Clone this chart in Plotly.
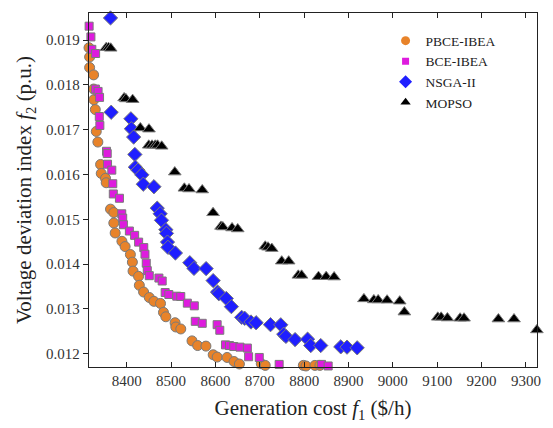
import plotly.graph_objects as go

# ---- data ----
pbce_x = [8314.9, 8315.0, 8316.4, 8316.4, 8325.4, 8325.4, 8326.0, 8329.2, 8331.4, 8335.0,
          8341.1, 8342.6, 8352.3, 8353.8, 8363.5, 8370.9, 8370.9, 8374.0, 8389.2, 8396.4,
          8408.3, 8412.8, 8414.3, 8426.7, 8428.5, 8438.1, 8450.9, 8461.4, 8476.2, 8482.9,
          8488.3, 8509.1, 8510.7, 8521.9, 8547.2, 8560.0, 8578.6, 8595.0, 8603.9, 8626.3,
          8642.0, 8654.1, 8703.4, 8712.3, 8798.2, 8804.2, 8824.4, 8835.6]
pbce_y = [0.019127, 0.018830, 0.018624, 0.018387, 0.018224, 0.017908, 0.017671, 0.017450, 0.016962, 0.016725,
          0.016225, 0.016025, 0.015915, 0.015817, 0.015228, 0.015152, 0.014918, 0.014696, 0.014510, 0.014393,
          0.014215, 0.014045, 0.013845, 0.013728, 0.013529, 0.013378, 0.013256, 0.013170, 0.013123, 0.012924,
          0.012826, 0.012693, 0.012598, 0.012554, 0.012288, 0.012184, 0.012171, 0.011978, 0.011927, 0.011918,
          0.011827, 0.011772, 0.011778, 0.011741, 0.011741, 0.011728, 0.011741, 0.011741]

bce_x = [8315.3, 8319.3, 8321.4, 8329.9, 8329.4, 8335.5, 8338.8, 8338.2, 8339.5, 8354.5,
         8356.1, 8356.8, 8366.4, 8368.6, 8369.8, 8383.6, 8388.8, 8391.0, 8392.6, 8406.0,
         8417.9, 8426.9, 8438.5, 8441.2, 8444.1, 8446.4, 8450.9, 8472.6, 8480.0, 8486.7,
         8495.0, 8512.9, 8521.9, 8536.7, 8552.4, 8554.6, 8570.3, 8603.9, 8609.9, 8622.7,
         8631.7, 8641.3, 8655.4, 8672.0, 8674.9, 8698.9, 8743.7, 8839.2, 8854.2]
bce_y = [0.019311, 0.019071, 0.018794, 0.018701, 0.017908, 0.017855, 0.017722, 0.017295, 0.017095, 0.016519,
         0.016468, 0.016231, 0.016098, 0.015795, 0.015567, 0.015471, 0.015124, 0.015028, 0.014880, 0.014740,
         0.014643, 0.014492, 0.014370, 0.014222, 0.014023, 0.013856, 0.013743, 0.013690, 0.013624, 0.013367,
         0.013323, 0.013285, 0.013278, 0.013130, 0.013070, 0.012724, 0.012680, 0.012649, 0.012525, 0.012199,
         0.012184, 0.012162, 0.012148, 0.012128, 0.011934, 0.011918, 0.011763, 0.011763, 0.011728]

nsga_x = [8356.8, 8363.5, 8365.0, 8409.4, 8410.5, 8415.7, 8418.4, 8419.5, 8425.5, 8434.1,
          8437.4, 8461.4, 8468.8, 8475.5, 8478.4, 8488.3, 8489.6, 8491.9, 8493.0, 8509.8,
          8542.3, 8551.7, 8579.0, 8594.9, 8604.8, 8607.7, 8624.5, 8636.0, 8659.2, 8665.9,
          8680.1, 8691.7, 8724.2, 8747.3, 8754.0, 8759.0, 8779.6, 8807.8, 8815.0, 8837.4,
          8882.6, 8896.7, 8919.6]
nsga_y = [0.019632, 0.019494, 0.017390, 0.017244, 0.017022, 0.016836, 0.016448, 0.016165, 0.016098, 0.015994,
          0.015784, 0.015728, 0.015250, 0.015124, 0.014980, 0.014769, 0.014687, 0.014492, 0.014375, 0.014249,
          0.014031, 0.013905, 0.013901, 0.013633, 0.013378, 0.013340, 0.013234, 0.013052, 0.012813, 0.012793,
          0.012709, 0.012693, 0.012649, 0.012647, 0.012436, 0.012388, 0.012317, 0.012326, 0.012184, 0.012184,
          0.012155, 0.012148, 0.012133]

mopso_x = [8353.8, 8359.0, 8363.9, 8394.2, 8398.2, 8413.4, 8430.7, 8450.2, 8449.7, 8457.1,
           8464.3, 8469.5, 8478.9, 8508.4, 8530.0, 8540.5, 8570.3, 8594.7, 8612.6, 8616.7,
           8637.5, 8650.3, 8712.3, 8718.6, 8727.1, 8749.5, 8765.2, 8786.9, 8794.3, 8832.4,
           8849.7, 8867.6, 8934.8, 8957.2, 8966.9, 8987.0, 9015.5, 9026.0, 9101.3, 9108.9,
           9123.0, 9151.7, 9160.5, 9238.0, 9273.2, 9324.7]
mopso_y = [0.018830, 0.018830, 0.018817, 0.017709, 0.017687, 0.017671, 0.017040, 0.017013, 0.016652, 0.016652,
           0.016652, 0.016652, 0.016630, 0.016054, 0.015693, 0.015677, 0.015655, 0.015146, 0.014842, 0.014829,
           0.014807, 0.014785, 0.014399, 0.014377, 0.014348, 0.014067, 0.014067, 0.013750, 0.013750, 0.013721,
           0.013721, 0.013712, 0.013225, 0.013201, 0.013201, 0.013196, 0.013174, 0.012930, 0.012813, 0.012813,
           0.012798, 0.012793, 0.012793, 0.012775, 0.012775, 0.012532]

x_ticks = [8400, 8500, 8600, 8700, 8800, 8900, 9000, 9100, 9200, 9300]
y_ticks = [0.012, 0.013, 0.014, 0.015, 0.016, 0.017, 0.018, 0.019]

FONT = "Liberation Serif, Times New Roman, serif"
OUT = dict(color="#7a7a7a", width=1)

fig = go.Figure()
series = [
    ("PBCE-IBEA", pbce_x, pbce_y, "circle", "#E8832A", 10, 9),
    ("BCE-IBEA", bce_x, bce_y, "square", "#DE1BDE", 8, 7),
    ("NSGA-II", nsga_x, nsga_y, "diamond", "#1F1FFF", 11, 10),
    ("MOPSO", mopso_x, mopso_y, "triangle-up", "#000000", 11, 9),
]
for name, xs, ys, sym, col, sz, lsz in series:
    fig.add_trace(go.Scatter(x=xs, y=ys, mode="markers", name=name, cliponaxis=False,
                             showlegend=False, legendgroup=name,
                             marker=dict(symbol=sym, color=col, size=sz, line=OUT)))
for name, xs, ys, sym, col, sz, lsz in series:
    fig.add_trace(go.Scatter(x=[None], y=[None], mode="markers", name=name, legendgroup=name,
                             marker=dict(symbol=sym, color=col, size=lsz, line=dict(width=0))))

axis_common = dict(showgrid=False, zeroline=False, showline=True, linecolor="#222",
                   linewidth=1.3, tickcolor="#222", tickwidth=1.3,
                   tickfont=dict(family=FONT, size=15, color="#333"))

fig.update_layout(
    width=553, height=428,
    margin=dict(l=89, r=14, t=12, b=60),
    paper_bgcolor="white", plot_bgcolor="white",
    font=dict(family=FONT, color="#222"),
    showlegend=True,
    legend=dict(x=0.662, y=0.965, xanchor="left", yanchor="top",
                font=dict(family=FONT, size=13.5, color="#222"),
                bgcolor="rgba(0,0,0,0)", itemsizing="trace", tracegroupgap=0),
    xaxis=dict(range=[8315, 9325], tickvals=x_ticks, ticktext=[str(v) for v in x_ticks],
               ticks="inside", ticklen=5, mirror="ticks",
               title=dict(text="Generation cost <i>f</i><sub>1</sub> ($/h)",
                          font=dict(family=FONT, size=21, color="#222"), standoff=12),
               **axis_common),
    yaxis=dict(range=[0.011705, 0.019605], tickvals=y_ticks, ticktext=["%.3f" % v for v in y_ticks],
               ticks="outside", ticklen=5, mirror=True,
               title=dict(text="Voltage deviation index <i>f</i><sub>2</sub> (p.u.)",
                          font=dict(family=FONT, size=21, color="#222"), standoff=8),
               **axis_common),
    yaxis2=dict(range=[0.011705, 0.019605], tickvals=y_ticks, overlaying="y", side="right",
                ticks="inside", ticklen=5, tickcolor="#222", tickwidth=1.3,
                showticklabels=False, showgrid=False, zeroline=False, showline=False),
)

fig.write_html("out.html")
